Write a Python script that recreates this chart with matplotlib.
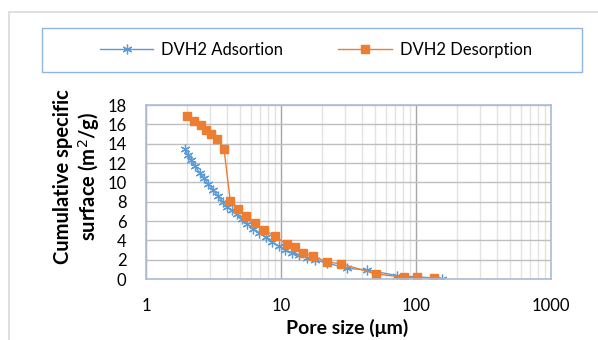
import matplotlib.pyplot as plt
import matplotlib.ticker as mticker
from matplotlib.patches import Rectangle
import numpy as np

plt.rcParams['font.family'] = ['Lato', 'DejaVu Sans']

# pore size (um) and cumulative specific surface (m2/g)
ads_x = [1.95, 2.05, 2.15, 2.3, 2.5, 2.7, 2.9, 3.15, 3.4, 3.7, 4.0, 4.3, 4.7, 5.1,
         5.6, 6.2, 6.9, 7.7, 8.6, 9.6, 10.7, 12.0, 13.5, 15.5, 18.0, 22.0, 31.0,
         43.0, 72.0, 155.0]
ads_y = [13.4, 12.8, 12.3, 11.7, 11.0, 10.4, 9.8, 9.2, 8.6, 8.0, 7.5, 7.1, 6.7, 6.2,
         5.7, 5.2, 4.8, 4.3, 3.8, 3.4, 3.0, 2.7, 2.45, 2.2, 1.95, 1.65, 1.1,
         0.95, 0.35, 0.05]

des_x = [2.02, 2.27, 2.54, 2.78, 3.03, 3.37, 3.78, 4.21, 4.83, 5.47, 6.45, 7.45,
         8.98, 11.0, 12.6, 14.6, 17.3, 21.8, 27.8, 50.6, 81.9, 101.0, 135.0]
des_y = [16.9, 16.3, 15.9, 15.4, 15.0, 14.5, 13.5, 8.07, 7.24, 6.5, 5.8, 5.1,
         4.45, 3.6, 3.3, 2.7, 2.4, 1.76, 1.58, 0.52, 0.17, 0.17, 0.13]

fig = plt.figure(figsize=(5.98, 3.40), dpi=100)
ax = fig.add_axes([146 / 598, 1 - 279 / 340, 405 / 598, 174 / 340])

# outer chart border and legend box
fig.patches.append(Rectangle((9 / 598, -0.1), 1.0, 1 - 12 / 340 + 0.1,
                             transform=fig.transFigure, fill=False,
                             edgecolor='#d9d9d9', lw=1.2))
fig.patches.append(Rectangle((42 / 598, 1 - 72 / 340), 540 / 598, 44 / 340,
                             transform=fig.transFigure, fill=False,
                             edgecolor='#8eb4e3', lw=1.0))

ax.plot(ads_x, ads_y, color='#5b9bd5', lw=1.0, marker=(6, 2, 0), markersize=7,
        markeredgewidth=0.9, label='DVH2 Adsortion')
ax.plot(des_x, des_y, color='#ed7d31', lw=1.0, marker='s', markersize=5.5,
        label='DVH2 Desorption')

ax.set_xscale('log')
ax.set_xlim(1, 1000)
ax.set_ylim(0, 18)
ax.set_yticks(np.arange(0, 19, 2))
ax.xaxis.set_major_formatter(mticker.FuncFormatter(lambda v, p: f'{v:g}'))
ax.xaxis.set_minor_locator(mticker.LogLocator(base=10, subs=np.arange(2, 10)))
ax.xaxis.set_minor_formatter(mticker.NullFormatter())
ax.grid(True, which='major', axis='x', color='#a6a6a6', lw=1.0)
ax.grid(True, which='minor', axis='x', color='#e3e3e3', lw=1.0)
ax.grid(True, which='major', axis='y', color='#bfbfbf', lw=1.0)
ax.set_axisbelow(True)
ax.tick_params(which='both', length=0, labelsize=12, colors='#000000')
ax.tick_params(axis='x', pad=14)
ax.tick_params(axis='y', pad=14)
for s in ax.spines.values():
    s.set_color('#a9bcd8')
    s.set_linewidth(1.2)

ax.set_xlabel('Pore size (μm)', fontsize=14, fontweight='bold')
ax.set_ylabel('Cumulative specific\nsurface (m$^2$/g)', fontsize=14.5,
              fontweight='bold', linespacing=1.15)
ax.xaxis.set_label_coords(0.496, -0.232)
ax.yaxis.set_label_coords(-0.108, 0.59)

fig.legend(loc='center', bbox_to_anchor=(316 / 598, 1 - 50 / 340), ncol=2,
           frameon=False, fontsize=12, handlelength=3.2, handletextpad=0.48,
           columnspacing=3.3)

plt.savefig('out.png', dpi=100)
